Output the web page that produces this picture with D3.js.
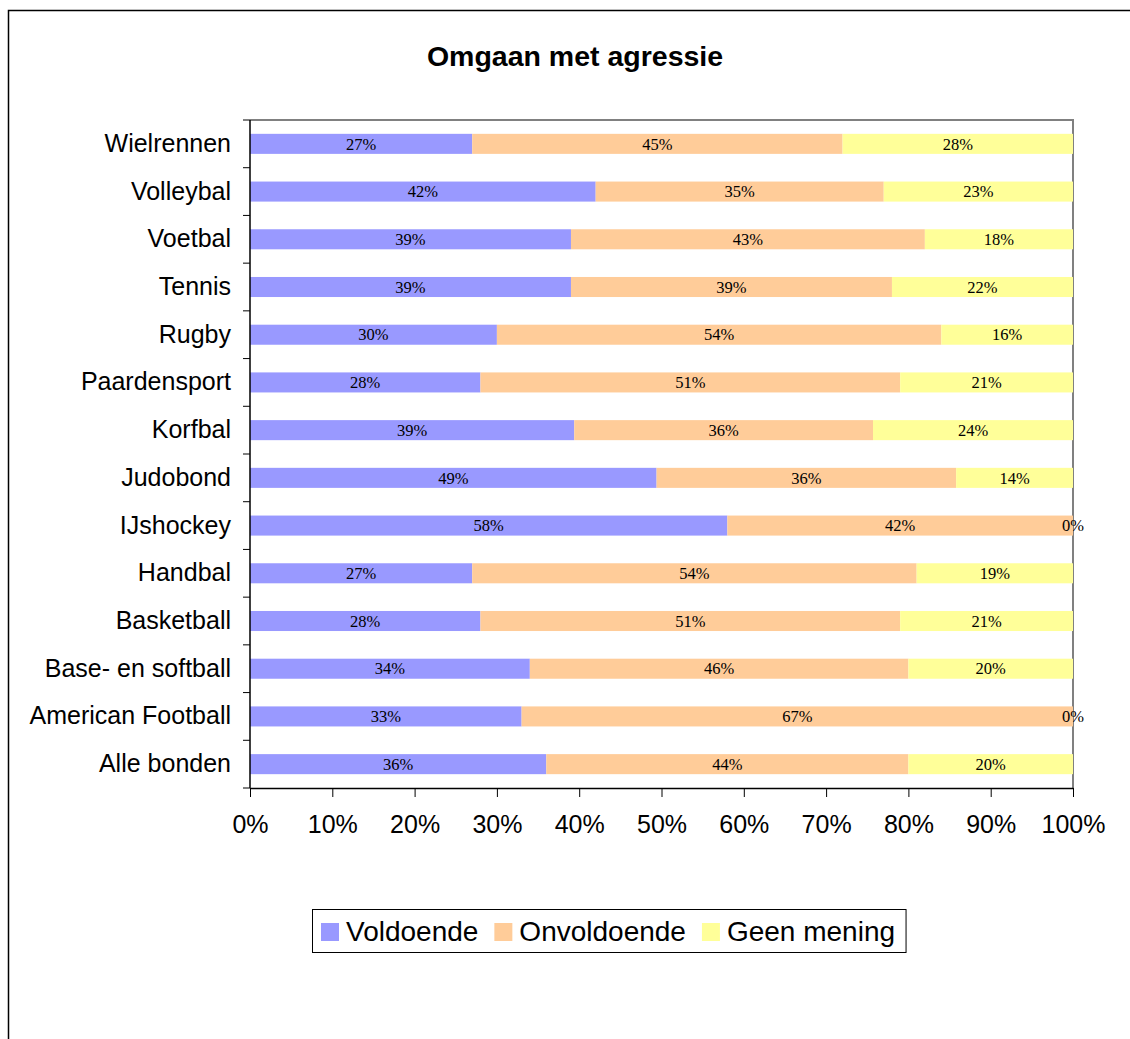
<!DOCTYPE html>
<html>
<head>
<meta charset="utf-8">
<script src="https://cdn.jsdelivr.net/npm/d3@7"></script>
<style>
  body { margin: 0; background: #fff; }
  svg { display: block; }
  text { font-family: "Liberation Sans", Arial, sans-serif; }
  .bar-label { font-family: "Liberation Serif", "Times New Roman", serif; font-size: 16.5px; }
</style>
</head>
<body>
<svg></svg>
<script>
// Data
const sports = [
  "Wielrennen", "Volleybal", "Voetbal", "Tennis", "Rugby", "Paardensport",
  "Korfbal", "Judobond", "IJshockey", "Handbal", "Basketball",
  "Base- en softball", "American Football", "Alle bonden"
];
const voldoende   = [27, 42, 39, 39, 30, 28, 39.4, 49.4, 58, 27, 28, 34, 33, 36];
const onvoldoende = [45, 35, 43, 39, 54, 51, 36.3, 36.4, 42, 54, 51, 46, 67, 44];
const geenMening  = [28, 23, 18, 22, 16, 21, 24.3, 14.2, 0, 19, 21, 20, 0, 20];
const seriesNames = ["Voldoende", "Onvoldoende", "Geen mening"];
const colors = ["#9999ff", "#ffcc99", "#ffff99"];
const xTicks = [0, 10, 20, 30, 40, 50, 60, 70, 80, 90, 100];

const width = 1130;
const height = 1039;

const svg = d3.select("svg").attr("width", width).attr("height", height);

// outer chart frame (cut off at right and bottom)
svg.append("rect")
  .attr("x", 8.5).attr("y", 10.5)
  .attr("width", 1400).attr("height", 1400)
  .attr("fill", "none").attr("stroke", "#000").attr("stroke-width", 1.5);

// Title
svg.append("text")
  .attr("x", 575).attr("y", 66)
  .attr("text-anchor", "middle")
  .attr("font-weight", "bold")
  .attr("font-size", "28.5px")
  .text("Omgaan met agressie");

// Plot area
const plotLeft = 250, plotTop = 120, plotRight = 1073, plotBottom = 788;

const xScale = d3.scaleLinear().domain([0, 100]).range([plotLeft, plotRight]);
const yScale = d3.scaleBand()
  .domain(sports)
  .range([plotTop, plotBottom])
  .paddingInner(0.58)
  .paddingOuter(0.29);

// Stack the three series
const rows = sports.map((s, i) => ({
  sport: s,
  Voldoende: voldoende[i],
  Onvoldoende: onvoldoende[i],
  "Geen mening": geenMening[i]
}));
const stacked = d3.stack().keys(seriesNames)(rows);

// top and right border of plot area
svg.append("path")
  .attr("d", `M${plotLeft},${plotTop}H${plotRight}V${plotBottom}`)
  .attr("fill", "none").attr("stroke", "#808080").attr("stroke-width", 2);

// Bars
const layers = svg.append("g")
  .selectAll("g")
  .data(stacked)
  .join("g")
  .attr("fill", (d, i) => colors[i]);

layers.selectAll("rect")
  .data(d => d)
  .join("rect")
  .attr("x", d => xScale(d[0]))
  .attr("y", d => yScale(d.data.sport))
  .attr("width", d => xScale(d[1]) - xScale(d[0]))
  .attr("height", yScale.bandwidth());

// Bar labels
const labels = svg.append("g");
stacked.forEach(layer => {
  labels.selectAll(null)
    .data(layer)
    .join("text")
    .attr("class", "bar-label")
    .attr("x", d => xScale((d[0] + d[1]) / 2))
    .attr("y", d => yScale(d.data.sport) + yScale.bandwidth() / 2)
    .attr("dy", "0.35em")
    .attr("text-anchor", "middle")
    .text(d => Math.round(d[1] - d[0]) + "%");
});

// Y axis: category labels
const yAxisG = svg.append("g")
  .attr("transform", `translate(${plotLeft},0)`)
  .call(d3.axisLeft(yScale).tickSize(0).tickPadding(19));
yAxisG.select(".domain").remove();
yAxisG.selectAll("text")
  .attr("font-size", "25px")
  .attr("font-family", "Liberation Sans, Arial, sans-serif")
  .attr("fill", "#000");

// Y axis: boundary ticks
const step = yScale.step();
const boundaries = d3.range(sports.length + 1).map(i => plotTop + i * step);
svg.append("g").selectAll("line")
  .data(boundaries)
  .join("line")
  .attr("x1", plotLeft - 7).attr("x2", plotLeft)
  .attr("y1", d => d).attr("y2", d => d)
  .attr("stroke", "#000").attr("stroke-width", 1);
svg.append("line")
  .attr("x1", plotLeft).attr("x2", plotLeft)
  .attr("y1", plotTop).attr("y2", plotBottom)
  .attr("stroke", "#000").attr("stroke-width", 1.5);

// X axis
const xAxisG = svg.append("g")
  .attr("transform", `translate(0,${plotBottom})`)
  .call(d3.axisBottom(xScale)
    .tickValues(xTicks)
    .tickFormat(d => d + "%")
    .tickSize(9)
    .tickSizeOuter(0)
    .tickPadding(18));
xAxisG.select(".domain").attr("stroke", "#000").attr("stroke-width", 1.5);
xAxisG.selectAll(".tick line").attr("stroke", "#000");
xAxisG.selectAll("text")
  .attr("font-size", "25px")
  .attr("font-family", "Liberation Sans, Arial, sans-serif")
  .attr("fill", "#000");

// Legend
const legend = svg.append("g");
const legendBox = legend.append("rect")
  .attr("x", 312.5).attr("y", 909.5)
  .attr("height", 43)
  .attr("fill", "#fff").attr("stroke", "#000").attr("stroke-width", 1);

let lx = 321;
seriesNames.forEach((name, i) => {
  legend.append("rect")
    .attr("x", lx).attr("y", 923)
    .attr("width", 18).attr("height", 18)
    .attr("fill", colors[i]);
  const t = legend.append("text")
    .attr("x", lx + 25).attr("y", 941)
    .attr("font-size", "28px")
    .text(name);
  lx += 25 + t.node().getComputedTextLength() + 16;
});
legendBox.attr("width", lx - 16 + 11 - 312.5);
</script>
</body>
</html>
